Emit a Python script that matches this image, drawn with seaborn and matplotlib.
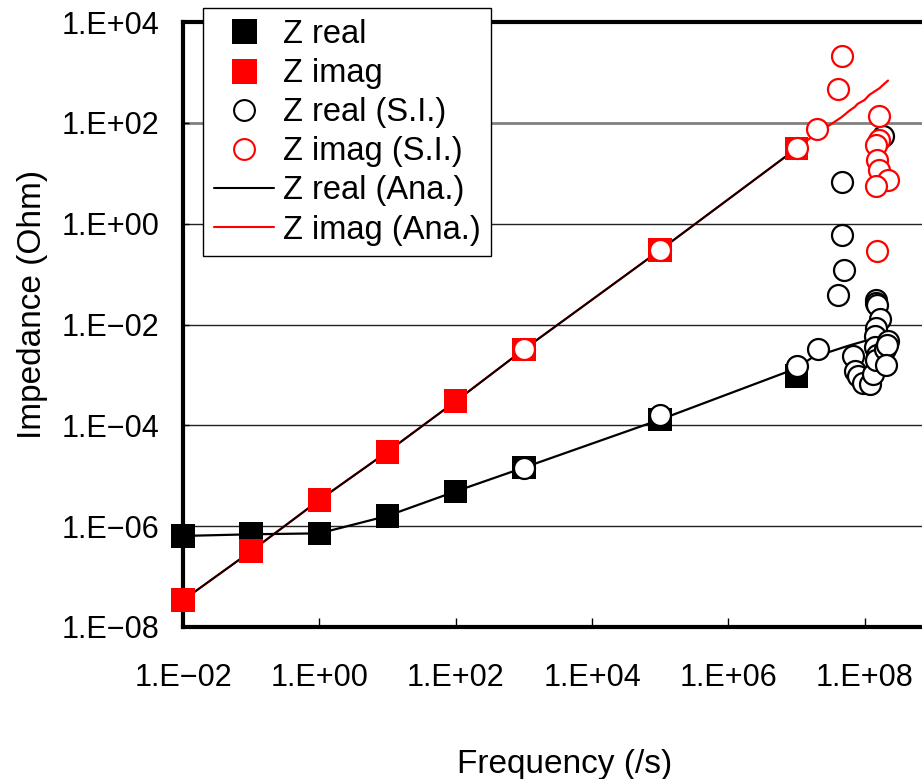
import numpy as np
import pandas as pd
import matplotlib
matplotlib.use("Agg")
import matplotlib.pyplot as plt
import seaborn as sns
from matplotlib.ticker import FixedLocator, FuncFormatter, NullLocator
from matplotlib.lines import Line2D

# Measured impedance (squares)
freq_meas = [1e-2, 1e-1, 1e0, 1e1, 1e2, 1e3, 1e5, 1e7]
z_real_meas = [6.4e-7, 6.9e-7, 7.2e-7, 1.6e-6, 4.9e-6, 1.45e-5, 1.3e-4, 9.5e-4]
z_imag_meas = [3.4e-8, 3.2e-7, 3.3e-6, 3.0e-5, 3.0e-4, 3.2e-3, 0.30, 31.0]

# Surface-integral results (open circles)
freq_si_real = [1e3, 1e5, 1e7, 2.1e7, 4.6e7, 4.6e7, 4.9e7, 4.0e7,
                6.8e7, 7.1e7, 7.9e7, 9.5e7, 1.18e8, 1.32e8,
                1.48e8, 1.48e8, 1.50e8, 1.66e8, 1.45e8, 1.41e8, 1.41e8,
                1.50e8, 1.48e8, 2.0e8, 2.19e8, 2.1e8, 2.09e8, 1.86e8]
z_si_real = [1.45e-5, 1.6e-4, 1.5e-3, 3.2e-3, 6.6, 0.59, 0.119, 0.038,
             2.4e-3, 1.19e-3, 9.5e-4, 7.0e-4, 6.5e-4, 1.02e-3,
             0.031, 0.027, 0.024, 0.013, 8.7e-3, 5.9e-3, 3.5e-3,
             2.5e-3, 2.0e-3, 3.2e-3, 4.7e-3, 4.0e-3, 1.6e-3, 53.6]

freq_si_imag = [1e3, 1e5, 1e7, 2.0e7, 4.6e7, 4.1e7, 1.62e8, 1.62e8, 1.48e8,
                1.51e8, 1.62e8, 2.19e8, 1.48e8, 1.51e8]
z_si_imag = [3.2e-3, 0.30, 31.0, 75.0, 2100.0, 465.0, 138.0, 46.0, 37.0,
             18.5, 11.7, 7.4, 5.5, 0.29]

# Analytical curves
freq_ana_real = [1e-2, 1e-1, 1e0, 1e1, 1e2, 1e3, 1e5, 1e7, 2.1e7, 2.9e7,
                 4.8e7, 6.6e7, 1.0e8, 1.05e8]
z_ana_real = [6.4e-7, 6.9e-7, 7.2e-7, 1.6e-6, 4.9e-6, 1.45e-5, 1.3e-4,
              1.35e-3, 2.7e-3, 2.8e-3, 3.5e-3, 4.0e-3, 4.7e-3, 4.9e-3]

freq_ana_imag = [1e-2, 1e-1, 1e0, 1e1, 1e2, 1e3, 1e5, 1e7, 2.0e7, 3.1e7,
                 4.6e7, 6.0e7, 7.1e7, 7.9e7, 1.0e8, 1.17e8, 1.65e8, 1.86e8,
                 2.2e8]
z_ana_imag = [3.4e-8, 3.2e-7, 3.3e-6, 3.0e-5, 3.0e-4, 3.2e-3, 0.30, 31.0,
              63.0, 91.0, 130.0, 175.0, 205.0, 238.0, 285.0, 358.0, 486.0,
              565.0, 689.0]

x_ticks = [1e-2, 1e0, 1e2, 1e4, 1e6, 1e8]
y_ticks = [1e-8, 1e-6, 1e-4, 1e-2, 1e0, 1e2, 1e4]

legend_labels = ["Z real", "Z imag", "Z real (S.I.)", "Z imag (S.I.)",
                 "Z real (Ana.)", "Z imag (Ana.)"]

sns.set_theme(style="white")
plt.rcParams["font.family"] = ["Liberation Sans", "DejaVu Sans"]
plt.rcParams["axes.unicode_minus"] = True
plt.rcParams["text.color"] = "black"
plt.rcParams["axes.labelcolor"] = "black"
plt.rcParams["xtick.color"] = "black"
plt.rcParams["ytick.color"] = "black"

W, H = 922, 779
fig = plt.figure(figsize=(W / 100, H / 100), dpi=100)
fig.patch.set_facecolor("white")
# the frequency axis runs on past the right edge of the canvas
ax = fig.add_axes([183 / W, 1 - 627 / H, (1001 - 183) / W, (627 - 22) / H])
ax.set_facecolor("white")
ax.set_xscale("log")
ax.set_yscale("log")
ax.set_xlim(1e-2, 1e10)
ax.set_ylim(1e-8, 1e4)

df_meas = pd.DataFrame({"f": freq_meas, "re": z_real_meas, "im": z_imag_meas})
df_si_re = pd.DataFrame({"f": freq_si_real, "z": z_si_real})
df_si_im = pd.DataFrame({"f": freq_si_imag, "z": z_si_imag})
df_ana_re = pd.DataFrame({"f": freq_ana_real, "z": z_ana_real})
df_ana_im = pd.DataFrame({"f": freq_ana_imag, "z": z_ana_imag})

# analytical curves
sns.lineplot(data=df_ana_im, x="f", y="z", color="red", lw=1.6,
             sort=False, estimator=None, ax=ax, legend=False, zorder=2)
sns.lineplot(data=df_ana_re, x="f", y="z", color="black", lw=1.6,
             sort=False, estimator=None, ax=ax, legend=False, zorder=2.2)
# connecting line of the reactance points
sns.lineplot(data=df_meas, x="f", y="im", color="black", lw=1.4,
             sort=False, estimator=None, ax=ax, legend=False, zorder=2.1)

# measured points
sns.scatterplot(data=df_meas, x="f", y="re", marker="s", s=290,
                color="black", edgecolor="none", linewidth=0, ax=ax,
                legend=False, zorder=3, clip_on=False)
sns.scatterplot(data=df_meas, x="f", y="im", marker="s", s=290,
                color="red", edgecolor="none", linewidth=0, ax=ax,
                legend=False, zorder=3, clip_on=False)

# surface-integral points
sns.scatterplot(data=df_si_re, x="f", y="z", marker="o", s=228,
                color="white", edgecolor="black", linewidth=1.6, ax=ax,
                legend=False, zorder=4)
sns.scatterplot(data=df_si_im, x="f", y="z", marker="o", s=228,
                color="white", edgecolor="red", linewidth=1.6, ax=ax,
                legend=False, zorder=4.5)


def sci_label(v, pos):
    e = int(round(np.log10(v)))
    sign = "+" if e >= 0 else "\u2212"
    return f"1.E{sign}{abs(e):02d}"


ax.xaxis.set_major_locator(FixedLocator(x_ticks))
ax.yaxis.set_major_locator(FixedLocator(y_ticks))
ax.xaxis.set_minor_locator(NullLocator())
ax.yaxis.set_minor_locator(NullLocator())
ax.xaxis.set_major_formatter(FuncFormatter(sci_label))
ax.yaxis.set_major_formatter(FuncFormatter(sci_label))

ax.yaxis.grid(True, which="major", color="#222222", lw=1.0)
ax.xaxis.grid(False)
ax.set_axisbelow(True)
# the 1.E+02 rule is drawn a little heavier in grey
for gl, val in zip(ax.get_ygridlines(), y_ticks):
    if val == 1e2:
        gl.set_color("#808080")
        gl.set_linewidth(2.0)

ax.tick_params(axis="x", which="major", direction="in", length=6.5,
               width=1.0, color="black", bottom=True, top=False,
               labelsize=22, labelcolor="black", pad=26)
ax.tick_params(axis="y", which="major", direction="in", length=4,
               width=1.0, color="black", left=True, right=False,
               labelsize=22, labelcolor="black", pad=17)

for side in ("left", "bottom", "top"):
    ax.spines[side].set_visible(True)
    ax.spines[side].set_color("black")
    ax.spines[side].set_linewidth(3.0)
ax.spines["right"].set_visible(False)

ax.set_xlabel("Frequency (/s)", fontsize=24, color="black")
ax.set_ylabel("Impedance (Ohm)", fontsize=24, color="black")
ax.xaxis.set_label_coords(565 / W, 1 - 749 / H, transform=fig.transFigure)
ax.yaxis.set_label_coords(48 / W, 1 - 304 / H, transform=fig.transFigure)

handles = [
    Line2D([], [], ls="none", marker="s", markersize=18, color="black",
           markeredgewidth=0),
    Line2D([], [], ls="none", marker="s", markersize=18, color="red",
           markeredgewidth=0),
    Line2D([], [], ls="none", marker="o", markersize=15, markerfacecolor="white",
           markeredgecolor="black", markeredgewidth=1.5),
    Line2D([], [], ls="none", marker="o", markersize=15, markerfacecolor="white",
           markeredgecolor="red", markeredgewidth=1.5),
    Line2D([], [], color="black", lw=1.5),
    Line2D([], [], color="red", lw=1.5),
]
leg = fig.legend(handles, legend_labels, loc="upper left",
                 bbox_to_anchor=(203 / W, 1 - 8 / H), frameon=True,
                 fancybox=False, edgecolor="black", facecolor="white",
                 framealpha=1, fontsize=23.5, handlelength=1.84,
                 handletextpad=0.28, labelspacing=0.25, borderpad=0.33,
                 borderaxespad=0, labelcolor="black")
leg.get_frame().set_linewidth(1.0)

fig.savefig("out.png", dpi=100, facecolor="white")
